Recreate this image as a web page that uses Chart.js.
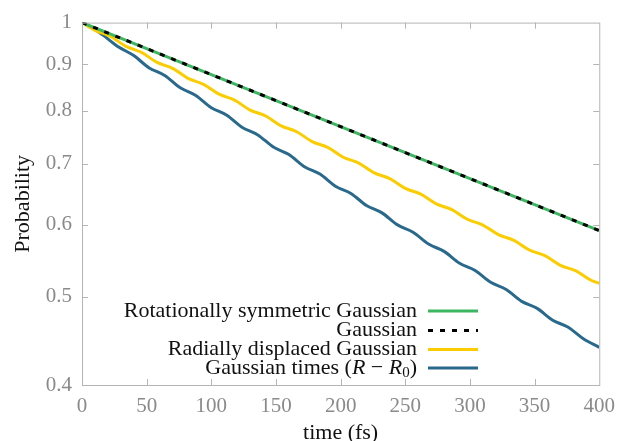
<!DOCTYPE html>
<html lang="en">
<head>
  <meta charset="UTF-8" />
  <title>Probability vs time</title>
  <script src="https://cdn.jsdelivr.net/npm/chart.js"></script>
  <style>
    body {
      margin: 0;
      background: #fff;
    }
    canvas {
      display: block;
    }
  </style>
</head>
<body>
  <canvas id="probChart" width="624" height="441"></canvas>
  <script>
    // values
    const timeGauss = [0, 50, 100, 150, 200, 250, 300, 350, 400];
    const probRotSym = [1, 0.9364, 0.8768, 0.8210, 0.7688, 0.7198, 0.6741, 0.6312, 0.5910];
    const probGauss = [1, 0.9364, 0.8768, 0.8210, 0.7688, 0.7198, 0.6741, 0.6312, 0.5910];

    const timeRadial = [0, 10, 22, 34, 46, 58, 70, 82, 94, 106, 118, 130, 142, 154, 166, 178, 190,
      202, 214, 226, 238, 250, 262, 274, 286, 298, 310, 322, 334, 346, 358, 370, 382, 394, 400];
    const probRadial = [1, 0.9807, 0.9658, 0.9417, 0.9274, 0.9043, 0.8907, 0.8686, 0.8555, 0.8344,
      0.8219, 0.8016, 0.7897, 0.7703, 0.7589, 0.7402, 0.7294, 0.7115, 0.7011, 0.6840, 0.6740,
      0.6576, 0.6481, 0.6324, 0.6232, 0.6082, 0.5994, 0.5850, 0.5766, 0.5627, 0.5547, 0.5414,
      0.5338, 0.5210, 0.5173];

    const timeRR0 = [0, 4, 16, 28, 40, 52, 64, 76, 88, 100, 112, 124, 136, 148, 160, 172, 184, 196,
      208, 220, 232, 244, 256, 268, 280, 292, 304, 316, 328, 340, 352, 364, 376, 388, 400];
    const probRR0 = [1, 0.9947, 0.9694, 0.9408, 0.9200, 0.8917, 0.8748, 0.8479, 0.8319, 0.8065,
      0.7913, 0.7672, 0.7528, 0.7300, 0.7164, 0.6947, 0.6819, 0.6613, 0.6492, 0.6297, 0.6181,
      0.5996, 0.5887, 0.5712, 0.5608, 0.5442, 0.5344, 0.5186, 0.5093, 0.4942, 0.4855, 0.4712,
      0.4629, 0.4493, 0.4400];

    const xTicks = [0, 50, 100, 150, 200, 250, 300, 350, 400];
    const yTicks = [0.4, 0.5, 0.6, 0.7, 0.8, 0.9, 1];

    const serif = "'Liberation Serif', 'Times New Roman', serif";
    const tickGrey = '#8a8a8a';
    const frameGrey = '#b4b4b4';

    function pts(xs, ys) {
      return xs.map((x, i) => ({ x: x, y: ys[i] }));
    }

    // box round the plot with short inward ticks on all four sides
    const framePlugin = {
      id: 'frame',
      afterDraw(chart) {
        const { ctx, chartArea: a, scales } = chart;
        ctx.save();
        ctx.strokeStyle = frameGrey;
        ctx.lineWidth = 1;
        ctx.strokeRect(a.left + 0.5, a.top + 0.5, a.right - a.left, a.bottom - a.top);
        const len = 6;
        ctx.beginPath();
        xTicks.slice(1, -1).forEach(v => {
          const px = Math.round(scales.x.getPixelForValue(v)) + 0.5;
          ctx.moveTo(px, a.bottom); ctx.lineTo(px, a.bottom - len);
          ctx.moveTo(px, a.top); ctx.lineTo(px, a.top + len);
        });
        yTicks.slice(1, -1).forEach(v => {
          const py = Math.round(scales.y.getPixelForValue(v)) + 0.5;
          ctx.moveTo(a.left, py); ctx.lineTo(a.left + len, py);
          ctx.moveTo(a.right, py); ctx.lineTo(a.right - len, py);
        });
        ctx.stroke();
        ctx.restore();
      }
    };

    // key: right aligned text, line sample to its right
    const keyPlugin = {
      id: 'key',
      afterDraw(chart) {
        const { ctx } = chart;
        const textRight = 417, lineLeft = 428, lineRight = 478;
        const rows = [311, 330.5, 349.5, 368];
        ctx.save();
        ctx.textBaseline = 'middle';
        chart.data.datasets.forEach((ds, di) => {
          const y = rows[di];
          ctx.fillStyle = '#111';
          if (di === 3) {
            // Gaussian times (R - R0) with math italics
            const parts = [
              ['Gaussian times (', '22px ' + serif, 0],
              ['R', 'italic 22px ' + serif, 0],
              [' \u2212 ', '22px ' + serif, 0],
              ['R', 'italic 22px ' + serif, 0],
              ['0', '15px ' + serif, 5],
              [')', '22px ' + serif, 0]
            ];
            let total = 0;
            parts.forEach(p => { ctx.font = p[1]; total += ctx.measureText(p[0]).width; });
            let x = textRight - total;
            ctx.textAlign = 'left';
            parts.forEach(p => {
              ctx.font = p[1];
              ctx.fillText(p[0], x, y + p[2]);
              x += ctx.measureText(p[0]).width;
            });
          } else {
            ctx.font = '22px ' + serif;
            ctx.textAlign = 'right';
            ctx.fillText(ds.label, textRight, y);
          }
          ctx.beginPath();
          ctx.strokeStyle = ds.borderColor;
          ctx.lineWidth = ds.borderWidth;
          ctx.setLineDash(ds.borderDash || []);
          ctx.moveTo(lineLeft, y);
          ctx.lineTo(lineRight, y);
          ctx.stroke();
          ctx.setLineDash([]);
        });
        ctx.restore();
      }
    };

    new Chart(document.getElementById('probChart'), {
      type: 'line',
      data: {
        datasets: [
          {
            label: 'Rotationally symmetric Gaussian',
            data: pts(timeGauss, probRotSym),
            borderColor: '#3cb661',
            borderWidth: 3,
            tension: 0,
            order: 2
          },
          {
            label: 'Gaussian',
            data: pts(timeGauss, probGauss),
            borderColor: '#000000',
            borderWidth: 3,
            borderDash: [5, 7],
            tension: 0,
            order: 1
          },
          {
            label: 'Radially displaced Gaussian',
            data: pts(timeRadial, probRadial),
            borderColor: '#fbcd00',
            borderWidth: 3,
            cubicInterpolationMode: 'monotone',
            order: 3
          },
          {
            label: 'Gaussian times (R \u2212 R0)',
            data: pts(timeRR0, probRR0),
            borderColor: '#29698c',
            borderWidth: 3,
            cubicInterpolationMode: 'monotone',
            order: 4
          }
        ]
      },
      options: {
        responsive: false,
        animation: false,
        devicePixelRatio: 1,
        layout: { padding: { top: 17, right: 14, left: 0, bottom: 0 } },
        elements: { point: { radius: 0 } },
        plugins: {
          legend: { display: false },
          tooltip: { enabled: false }
        },
        scales: {
          x: {
            type: 'linear',
            min: 0,
            max: 400,
            afterBuildTicks: s => { s.ticks = xTicks.map(v => ({ value: v })); },
            afterFit: s => { s.height = 56; },
            grid: { display: false, drawTicks: false },
            border: { display: false },
            ticks: {
              color: tickGrey,
              font: { family: serif, size: 21 },
              padding: 9,
              maxRotation: 0,
              autoSkip: false
            },
            title: {
              display: true,
              text: 'time (fs)',
              color: '#111',
              font: { family: serif, size: 22, lineHeight: 1 },
              padding: { top: 0, bottom: -3 }
            }
          },
          y: {
            type: 'logarithmic',
            min: 0.4,
            max: 1,
            afterBuildTicks: s => { s.ticks = yTicks.map(v => ({ value: v })); },
            afterFit: s => { s.width = 82; },
            grid: { display: false, drawTicks: false },
            border: { display: false },
            ticks: {
              color: tickGrey,
              font: { family: serif, size: 21 },
              padding: 10,
              autoSkip: false,
              callback: v => String(v)
            },
            title: {
              display: true,
              text: 'Probability',
              color: '#111',
              font: { family: serif, size: 22, lineHeight: 1 },
              padding: { top: 12, bottom: 0 }
            }
          }
        }
      },
      plugins: [framePlugin, keyPlugin]
    });
  </script>
</body>
</html>
